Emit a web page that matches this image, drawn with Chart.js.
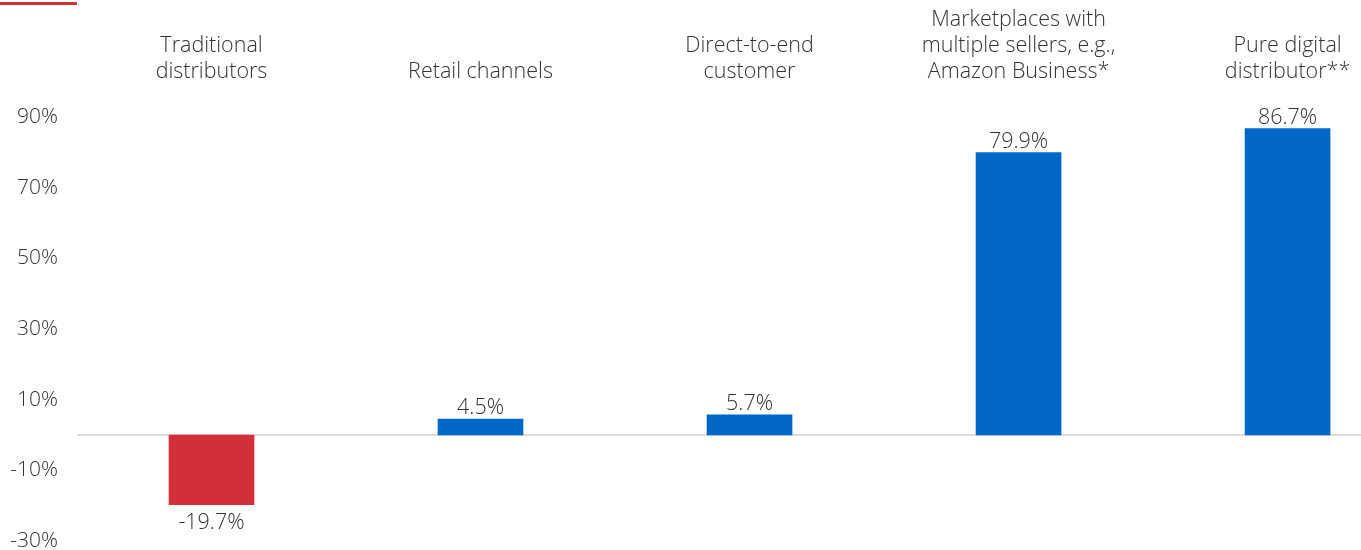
<!DOCTYPE html>
<html lang="en">
<head>
  <meta charset="UTF-8" />
  <title>Growth by sales channel</title>
  <script src="https://cdn.jsdelivr.net/npm/chart.js"></script>
  <style>
    body {
      margin: 0;
      background: #ffffff;
      font-family: 'Open Sans', sans-serif;
    }
    .wrap {
      position: relative;
      width: 1361px;
      height: 550px;
    }
    .accent {
      position: absolute;
      left: 0;
      top: 2px;
      width: 77px;
      height: 3px;
      background: #d32f3a;
    }
  </style>
</head>
<body>
  <div class="wrap">
    <div class="accent"></div>
    <canvas id="channelChart"></canvas>
  </div>

  <script>
    const channels = [
      ['Traditional', 'distributors'],
      ['Retail channels'],
      ['Direct-to-end', 'customer'],
      ['Marketplaces with', 'multiple sellers, e.g.,', 'Amazon Business*'],
      ['Pure digital', 'distributor**']
    ];
    const growth = [-19.7, 4.5, 5.7, 79.9, 86.7];
    const yTicks = [-30, -10, 10, 30, 50, 70, 90];

    const BLUE = '#0067c9';
    const RED = '#d22f3a';
    const TEXT = '#333333';
    const FAMILY = "'Open Sans', sans-serif";
    const FONT = { family: FAMILY, size: 21.5, weight: 300 };

    // light rule along the zero value
    const zeroLine = {
      id: 'zeroLine',
      beforeDatasetsDraw(chart) {
        const { ctx, chartArea, scales } = chart;
        const y = scales.y.getPixelForValue(0);
        ctx.save();
        ctx.strokeStyle = '#dcdcdc';
        ctx.lineWidth = 2;
        ctx.beginPath();
        ctx.moveTo(chartArea.left, y);
        ctx.lineTo(chartArea.right, y);
        ctx.stroke();
        ctx.restore();
      }
    };

    // value text above positive bars, below negative ones
    const valueLabels = {
      id: 'valueLabels',
      afterDatasetsDraw(chart) {
        const { ctx } = chart;
        const meta = chart.getDatasetMeta(0);
        ctx.save();
        ctx.font = `${FONT.weight} ${FONT.size}px ${FONT.family}`;
        ctx.fillStyle = TEXT;
        ctx.textAlign = 'center';
        meta.data.forEach((bar, i) => {
          const v = growth[i];
          const text = v.toFixed(1) + '%';
          if (v >= 0) {
            ctx.textBaseline = 'bottom';
            ctx.fillText(text, bar.x, bar.y);
          } else {
            ctx.textBaseline = 'top';
            ctx.fillText(text, bar.x, bar.y + 8);
          }
        });
        ctx.restore();
      }
    };

    new Chart(document.getElementById('channelChart'), {
      type: 'bar',
      data: {
        datasets: [{
          data: growth.map((v, i) => ({ x: i, y: v })),
          backgroundColor: growth.map(v => v < 0 ? RED : BLUE),
          barThickness: 85
        }]
      },
      options: {
        responsive: true,
        maintainAspectRatio: false,
        animation: false,
        layout: { padding: { top: 0, bottom: 9, right: 0, left: 0 } },
        plugins: {
          legend: { display: false },
          tooltip: { enabled: false }
        },
        scales: {
          x: {
            type: 'linear',
            position: 'top',
            offset: false,
            min: -0.5,
            max: 4.273,
            grid: { display: false },
            border: { display: false },
            afterBuildTicks: scale => {
              scale.ticks = channels.map((_, i) => ({ value: i }));
            },
            afterFit: scale => {
              scale.height = 117;
              scale.paddingLeft = 0;
              scale.paddingRight = 0;
            },
            ticks: {
              autoSkip: false,
              maxRotation: 0,
              padding: 24,
              color: TEXT,
              font: { ...FONT, lineHeight: 1.22 },
              callback: v => channels[v]
            }
          },
          y: {
            min: -30,
            max: 90,
            grid: { display: false },
            border: { display: false },
            afterBuildTicks: scale => {
              scale.ticks = yTicks.map(v => ({ value: v }));
            },
            afterFit: scale => {
              scale.width = 77;
              scale.paddingTop = 0;
              scale.paddingBottom = 0;
            },
            ticks: {
              padding: 11,
              color: TEXT,
              font: { ...FONT, size: 21 },
              callback: v => v + '%'
            }
          }
        }
      },
      plugins: [zeroLine, valueLabels]
    });
  </script>
</body>
</html>
